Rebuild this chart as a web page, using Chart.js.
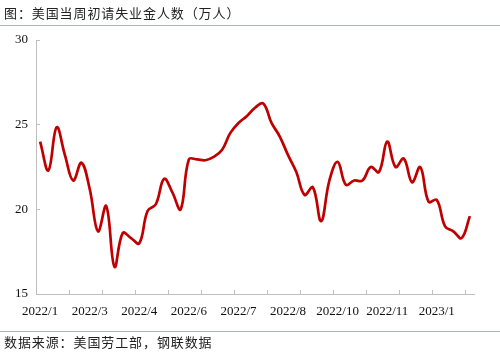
<!DOCTYPE html>
<html>
<head>
<meta charset="utf-8">
<script src="https://cdn.jsdelivr.net/npm/chart.js@4"></script>
<style>
  html, body { margin: 0; padding: 0; background: #fff; }
  #wrap { position: relative; width: 500px; height: 357px; overflow: hidden; }
  #c { position: absolute; left: 0; top: 0; }
  .title { position: absolute; left: 4px; top: 4px; font-family: "Noto Sans CJK SC", sans-serif; font-size: 13px; letter-spacing: 0.9px; color: #222; line-height: 18px; white-space: nowrap; }
  .foot { position: absolute; left: 4px; top: 333px; font-family: "Noto Sans CJK SC", sans-serif; font-size: 13px; letter-spacing: 0.9px; color: #222; line-height: 18px; white-space: nowrap; }
  .rule { position: absolute; left: 0; width: 500px; height: 1px; background: #aab6c4; }
</style>
</head>
<body>
<div id="wrap">
  <canvas id="c" width="500" height="357"></canvas>
  <div class="title">图：美国当周初请失业金人数（万人）</div>
  <div class="rule" style="top:25px;"></div>
  <div class="rule" style="top:331px;"></div>
  <div class="foot">数据来源：美国劳工部，钢联数据</div>
</div>
<script>
// Weekly initial jobless claims (10k persons), 53 weeks
const claims = [
  24.0, 22.3, 24.85, 23.2, 21.7, 22.75, 21.2, 18.7, 20.2, 16.6,
  18.6, 18.3, 18.0, 19.9, 20.3, 21.8, 21.0, 20.0, 22.95, 22.95,
  22.9, 23.1, 23.5, 24.5, 25.1, 25.5, 26.0, 26.25, 25.1, 24.3,
  23.2, 22.2, 20.85, 21.3, 19.3, 21.7, 22.8, 21.45, 21.7, 21.7,
  22.5, 22.2, 24.0, 22.5, 23.0, 21.6, 22.5, 20.45, 20.55, 19.0,
  18.7, 18.3, 19.6
];
// x-axis labels shown every 6 weeks
const tickLabels = ['2022/1', '2022/3', '2022/4', '2022/6', '2022/7', '2022/8', '2022/10', '2022/11', '2023/1'];
const labelEvery = 6;
const tickMarkEvery = 4;
const yTicks = [15, 20, 25, 30];

const categories = claims.map((_, i) => i);

new Chart(document.getElementById('c'), {
  type: 'line',
  data: {
    labels: categories,
    datasets: [{
      data: claims,
      borderColor: '#C00000',
      borderWidth: 2.7,
      pointRadius: 0,
      tension: 0.4,
      fill: false
    }]
  },
  options: {
    responsive: false,
    animation: false,
    layout: { padding: { left: 0, right: 26, top: 40, bottom: 0 } },
    plugins: { legend: { display: false }, tooltip: { enabled: false } },
    scales: {
      x: {
        type: 'category',
        offset: true,
        border: { display: true, color: '#bfbfbf', width: 1 },
        grid: {
          display: true,
          offset: true,
          drawOnChartArea: false,
          drawTicks: true,
          tickLength: -4,
          tickColor: (ctx) => (ctx.index !== undefined && ctx.index % tickMarkEvery === 0) ? '#bfbfbf' : 'rgba(0,0,0,0)'
        },
        ticks: {
          autoSkip: false,
          maxRotation: 0,
          minRotation: 0,
          padding: 14,
          color: '#111',
          font: { family: '"Liberation Serif", serif', size: 13 },
          callback: (v, i) => (i % labelEvery === 0 && tickLabels[i / labelEvery]) ? tickLabels[i / labelEvery] : ''
        },
        afterFit: (s) => { s.height = 63; }
      },
      y: {
        min: yTicks[0],
        max: yTicks[yTicks.length - 1],
        border: { display: true, color: '#bfbfbf', width: 1 },
        grid: {
          display: true,
          drawOnChartArea: false,
          drawTicks: true,
          tickLength: -4,
          tickColor: '#bfbfbf'
        },
        afterBuildTicks: (s) => { s.ticks = yTicks.map(v => ({ value: v })); },
        ticks: {
          padding: 12,
          color: '#111',
          font: { family: '"Liberation Serif", serif', size: 13 }
        },
        afterFit: (s) => { s.width = 36; }
      }
    }
  }
});
</script>
</body>
</html>
